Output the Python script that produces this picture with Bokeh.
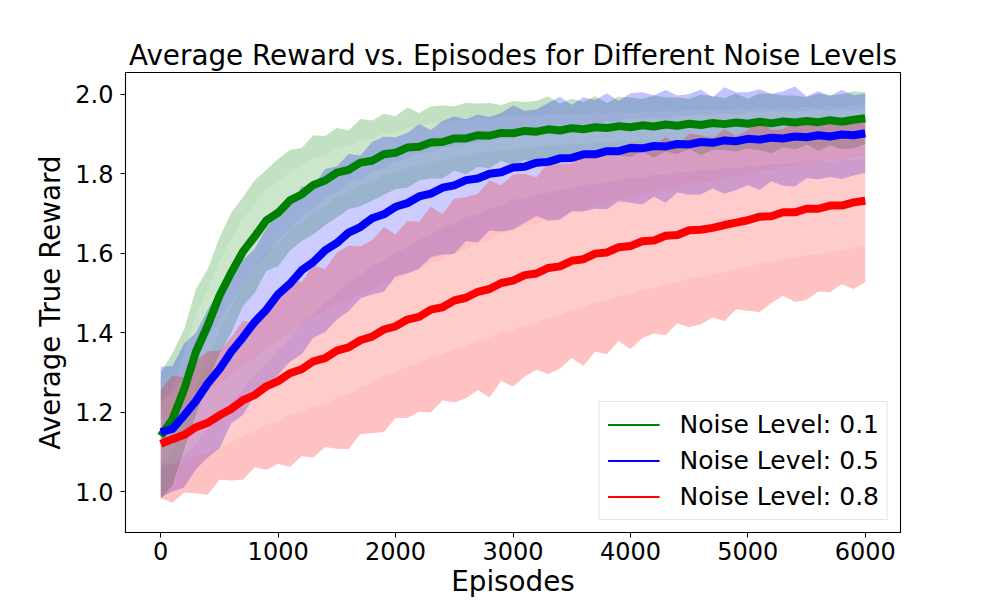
from bokeh.plotting import figure
from bokeh.models import ColumnDataSource, Legend, LegendItem, FixedTicker, NumeralTickFormatter, Range1d
from bokeh.embed import file_html
from bokeh.resources import INLINE

# ---------------- data ----------------
episodes = list(range(0, 6001, 100))
noise_labels = ["Noise Level: 0.1", "Noise Level: 0.5", "Noise Level: 0.8"]
colors = ["#008000", "#0000ff", "#ff0000"]

mean_01 = [1.140, 1.182, 1.258, 1.352, 1.418, 1.493, 1.551, 1.604, 1.642, 1.683,
           1.702, 1.733, 1.748, 1.772, 1.783, 1.803, 1.810, 1.828, 1.833, 1.849,
           1.853, 1.866, 1.868, 1.879, 1.880, 1.889, 1.889, 1.897, 1.896, 1.903,
           1.902, 1.908, 1.906, 1.912, 1.909, 1.915, 1.912, 1.917, 1.915, 1.920,
           1.917, 1.922, 1.919, 1.924, 1.921, 1.926, 1.923, 1.928, 1.925, 1.929,
           1.926, 1.931, 1.927, 1.932, 1.929, 1.933, 1.930, 1.935, 1.931, 1.936, 1.940]
mean_05 = [1.150, 1.158, 1.192, 1.228, 1.272, 1.308, 1.352, 1.388, 1.427, 1.458,
           1.497, 1.523, 1.557, 1.578, 1.607, 1.626, 1.652, 1.666, 1.688, 1.698,
           1.717, 1.726, 1.743, 1.750, 1.765, 1.771, 1.784, 1.788, 1.800, 1.804,
           1.816, 1.818, 1.828, 1.830, 1.839, 1.840, 1.849, 1.849, 1.857, 1.857,
           1.865, 1.864, 1.870, 1.869, 1.875, 1.874, 1.880, 1.878, 1.884, 1.882,
           1.888, 1.886, 1.891, 1.889, 1.894, 1.892, 1.897, 1.894, 1.899, 1.897, 1.902]
mean_08 = [1.120, 1.132, 1.143, 1.162, 1.173, 1.192, 1.208, 1.230, 1.243, 1.265,
           1.278, 1.298, 1.308, 1.328, 1.336, 1.355, 1.363, 1.381, 1.390, 1.408,
           1.416, 1.433, 1.440, 1.458, 1.464, 1.481, 1.488, 1.503, 1.510, 1.525,
           1.531, 1.545, 1.549, 1.563, 1.567, 1.581, 1.585, 1.599, 1.602, 1.615,
           1.618, 1.630, 1.632, 1.644, 1.646, 1.658, 1.659, 1.664, 1.671, 1.677,
           1.683, 1.692, 1.693, 1.703, 1.703, 1.712, 1.712, 1.720, 1.720, 1.728, 1.732]

# half-width of the dense part of the shaded band
core_01 = [0.070, 0.085, 0.090, 0.090, 0.088, 0.086, 0.084, 0.082, 0.080, 0.078,
           0.076, 0.073, 0.070, 0.067, 0.064, 0.061, 0.058, 0.056, 0.054, 0.052,
           0.050, 0.049, 0.048, 0.047, 0.046, 0.045, 0.044, 0.043, 0.042, 0.041,
           0.040, 0.040, 0.039, 0.039, 0.038, 0.038, 0.037, 0.037, 0.036, 0.036,
           0.035, 0.035, 0.035, 0.035, 0.035, 0.035, 0.035, 0.035, 0.035, 0.035,
           0.035, 0.035, 0.035, 0.035, 0.035, 0.035, 0.035, 0.035, 0.035, 0.035, 0.035]
core_05 = [0.080, 0.090, 0.100, 0.108, 0.115, 0.120, 0.125, 0.130, 0.134, 0.137,
           0.138, 0.137, 0.135, 0.133, 0.130, 0.127, 0.124, 0.121, 0.118, 0.116,
           0.114, 0.111, 0.108, 0.104, 0.100, 0.097, 0.093, 0.090, 0.086, 0.083,
           0.080, 0.079, 0.078, 0.078, 0.077, 0.077, 0.076, 0.076, 0.075, 0.075,
           0.074, 0.073, 0.072, 0.071, 0.070, 0.070, 0.069, 0.069, 0.068, 0.068,
           0.067, 0.067, 0.066, 0.066, 0.065, 0.065, 0.064, 0.064, 0.063, 0.063, 0.062]
core_08 = [0.060, 0.064, 0.068, 0.072, 0.076, 0.080, 0.084, 0.088, 0.092, 0.096,
           0.100, 0.104, 0.108, 0.112, 0.116, 0.118, 0.118, 0.117, 0.116, 0.115,
           0.115, 0.116, 0.117, 0.118, 0.119, 0.120, 0.121, 0.122, 0.123, 0.124,
           0.125, 0.125, 0.124, 0.124, 0.123, 0.123, 0.122, 0.122, 0.121, 0.121,
           0.120, 0.120, 0.120, 0.119, 0.119, 0.119, 0.118, 0.118, 0.118, 0.117,
           0.117, 0.117, 0.116, 0.116, 0.115, 0.115, 0.115, 0.114, 0.114, 0.113, 0.113]

# half-width reached by the spiky outer fringe of the band
outer_01 = [0.160, 0.166, 0.151, 0.158, 0.142, 0.146, 0.151, 0.137, 0.142, 0.127,
            0.135, 0.127, 0.117, 0.125, 0.112, 0.113, 0.099, 0.110, 0.101, 0.102,
            0.092, 0.101, 0.085, 0.091, 0.092, 0.081, 0.090, 0.080, 0.082, 0.070,
            0.081, 0.073, 0.078, 0.083, 0.068, 0.074, 0.069, 0.078, 0.063, 0.074,
            0.075, 0.066, 0.078, 0.068, 0.071, 0.063, 0.076, 0.068, 0.065, 0.073,
            0.063, 0.071, 0.075, 0.065, 0.068, 0.060, 0.072, 0.063, 0.069, 0.072, 0.065]
outer_05 = [0.164, 0.158, 0.181, 0.172, 0.186, 0.199, 0.180, 0.195, 0.184, 0.206,
            0.203, 0.196, 0.211, 0.191, 0.205, 0.193, 0.198, 0.180, 0.192, 0.195,
            0.175, 0.177, 0.182, 0.160, 0.168, 0.173, 0.153, 0.161, 0.143, 0.149,
            0.156, 0.141, 0.134, 0.148, 0.155, 0.134, 0.144, 0.137, 0.146, 0.126,
            0.138, 0.141, 0.128, 0.142, 0.122, 0.127, 0.132, 0.115, 0.134, 0.123,
            0.117, 0.127, 0.110, 0.119, 0.126, 0.103, 0.111, 0.102, 0.112, 0.101, 0.100]
outer_08 = [0.136, 0.160, 0.145, 0.166, 0.181, 0.162, 0.180, 0.200, 0.182, 0.210,
            0.208, 0.236, 0.219, 0.242, 0.224, 0.247, 0.256, 0.236, 0.243, 0.258,
            0.231, 0.248, 0.239, 0.259, 0.235, 0.257, 0.253, 0.247, 0.273, 0.246,
            0.267, 0.255, 0.242, 0.267, 0.258, 0.245, 0.268, 0.247, 0.256, 0.236,
            0.260, 0.244, 0.234, 0.250, 0.222, 0.244, 0.238, 0.226, 0.242, 0.218,
            0.228, 0.240, 0.218, 0.210, 0.226, 0.230, 0.208, 0.218, 0.198, 0.218, 0.205]

x_ticks = [0, 1000, 2000, 3000, 4000, 5000, 6000]
y_ticks = [1.0, 1.2, 1.4, 1.6, 1.8, 2.0]

series = [(mean_01, core_01, outer_01), (mean_05, core_05, outer_05), (mean_08, core_08, outer_08)]

FONT = "DejaVu Sans"

p = figure(width=1000, height=600, output_backend="svg", toolbar_location=None,
           x_range=Range1d(-300, 6300), y_range=Range1d(0.897, 2.055),
           min_border_left=125, min_border_right=100, min_border_top=72, min_border_bottom=66)

p.title.text = "Average Reward vs. Episodes for Different Noise Levels"
p.title.text_font = FONT
p.title.text_font_size = "27.8px"
p.title.text_font_style = "normal"
p.title.text_color = "black"
p.title.align = "center"
p.title.standoff = 2

p.xgrid.visible = False
p.ygrid.visible = False
p.outline_line_color = "black"
p.outline_line_width = 1.1
p.background_fill_color = "white"
p.border_fill_color = "white"

sources = []
for (m, c, o) in series:
    sources.append(ColumnDataSource(dict(
        x=episodes, m=m,
        lo_o=[a - b for a, b in zip(m, o)], lo_c=[a - b for a, b in zip(m, c)],
        hi_c=[a + b for a, b in zip(m, c)], hi_o=[a + b for a, b in zip(m, o)])))

# shaded bands first
for src, col in zip(sources, colors):
    p.varea(x="x", y1="lo_c", y2="hi_c", source=src, fill_color=col, fill_alpha=0.2)
    p.varea(x="x", y1="lo_o", y2="lo_c", source=src, fill_color=col, fill_alpha=0.24)
    p.varea(x="x", y1="hi_c", y2="hi_o", source=src, fill_color=col, fill_alpha=0.24)

# mean lines on top
for src, col in zip(sources, colors):
    p.line(x="x", y="m", source=src, line_color=col, line_width=8, line_join="round")

# legend proxies: thin lines placed outside the visible x range
items = []
for lab, col in zip(noise_labels, colors):
    r = p.line(x=[-1000, -900], y=[1.5, 1.5], line_color=col, line_width=2)
    items.append(LegendItem(label=lab, renderers=[r]))

legend = Legend(items=items, location="bottom_right")
legend.label_text_font = FONT
legend.label_text_font_size = "25px"
legend.label_text_color = "black"
legend.glyph_width = 52
legend.glyph_height = 29
legend.label_height = 29
legend.label_standoff = 20
legend.padding = 8
legend.spacing = 7
legend.margin = 12
legend.border_line_color = "#cccccc"
legend.border_line_width = 1
legend.background_fill_alpha = 0.8
p.add_layout(legend)

for ax in (p.xaxis[0], p.yaxis[0]):
    ax.major_label_text_font = FONT
    ax.major_label_text_font_size = "24px"
    ax.axis_label_text_font = FONT
    ax.axis_label_text_font_size = "27.8px"
    ax.axis_label_text_font_style = "normal"
    ax.major_tick_in = 0
    ax.major_tick_out = 5
    ax.minor_tick_line_color = None
    ax.axis_line_color = "black"
    ax.major_tick_line_color = "black"
    ax.major_label_text_color = "black"
    ax.axis_label_text_color = "black"

p.xaxis[0].ticker = FixedTicker(ticks=x_ticks)
p.xaxis[0].formatter = NumeralTickFormatter(format="0")
p.xaxis[0].axis_label = "Episodes"
p.xaxis[0].major_label_standoff = 4
p.xaxis[0].axis_label_standoff = 2

p.yaxis[0].ticker = FixedTicker(ticks=y_ticks)
p.yaxis[0].formatter = NumeralTickFormatter(format="0.0")
p.yaxis[0].axis_label = "Average True Reward"
p.yaxis[0].major_label_standoff = 7
p.yaxis[0].axis_label_standoff = 5

open("out.html", "w").write(file_html(p, INLINE))
